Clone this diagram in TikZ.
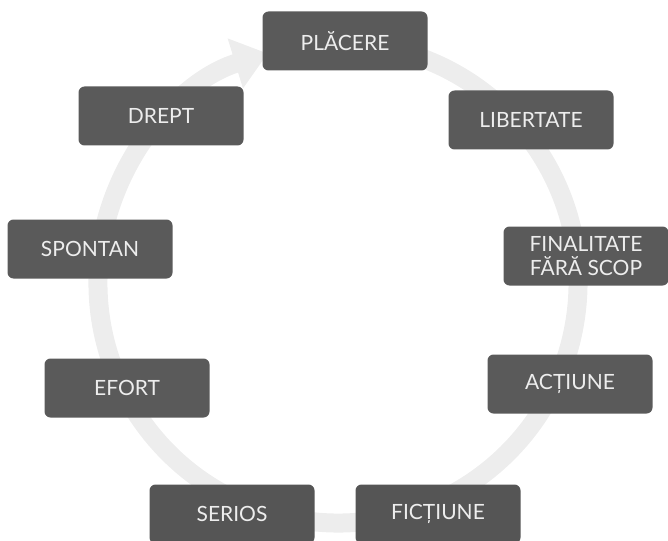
\documentclass[tikz,border=0pt]{standalone}
\usepackage{fontspec}
\setmainfont{Lato}
\usepackage{xcolor}
\usetikzlibrary{arrows.meta}
\definecolor{boxgray}{HTML}{5A5A5A}
\definecolor{boxdark}{HTML}{555555}
\definecolor{ringgray}{HTML}{EDEDED}

\begin{document}
\begin{tikzpicture}[
    x=1pt, y=-1pt,
    every node/.style={font=\fontsize{21}{24}\selectfont},
    cbox/.style={fill=boxgray, rounded corners=6pt, minimum width=165pt, minimum height=59pt, text=white!93!black, align=center, inner sep=2pt},
    grain/.style={cbox, fill=boxdark},
    ring/.style={line width=19pt, ringgray, -{Triangle[width=50pt, length=34pt]}},
]
\useasboundingbox (0,0) rectangle (668,540);

% === Cycle ring ===
\coordinate (c) at (338,283);
\draw[ring] (c) ++(-80:240) arc[start angle=-80, end angle=253, radius=240];

% === Boxes ===
\node[cbox] (placere) at (345,41) {PLĂCERE};
\node[cbox] (libertate) at (531,120) {LIBERTATE};
\node[cbox] (finalitate) at (586,256) {FINALITATE\\FĂRĂ SCOP};
\node[cbox] (actiune) at (570,384) {ACȚIUNE};
\node[grain] (fictiune) at (438,514) {FICȚIUNE};
\node[grain] (serios) at (232,514) {SERIOS};
\node[cbox] (efort) at (127,388) {EFORT};
\node[cbox] (spontan) at (90,249) {SPONTAN};
\node[cbox] (drept) at (161,116) {DREPT};

\end{tikzpicture}
\end{document}
